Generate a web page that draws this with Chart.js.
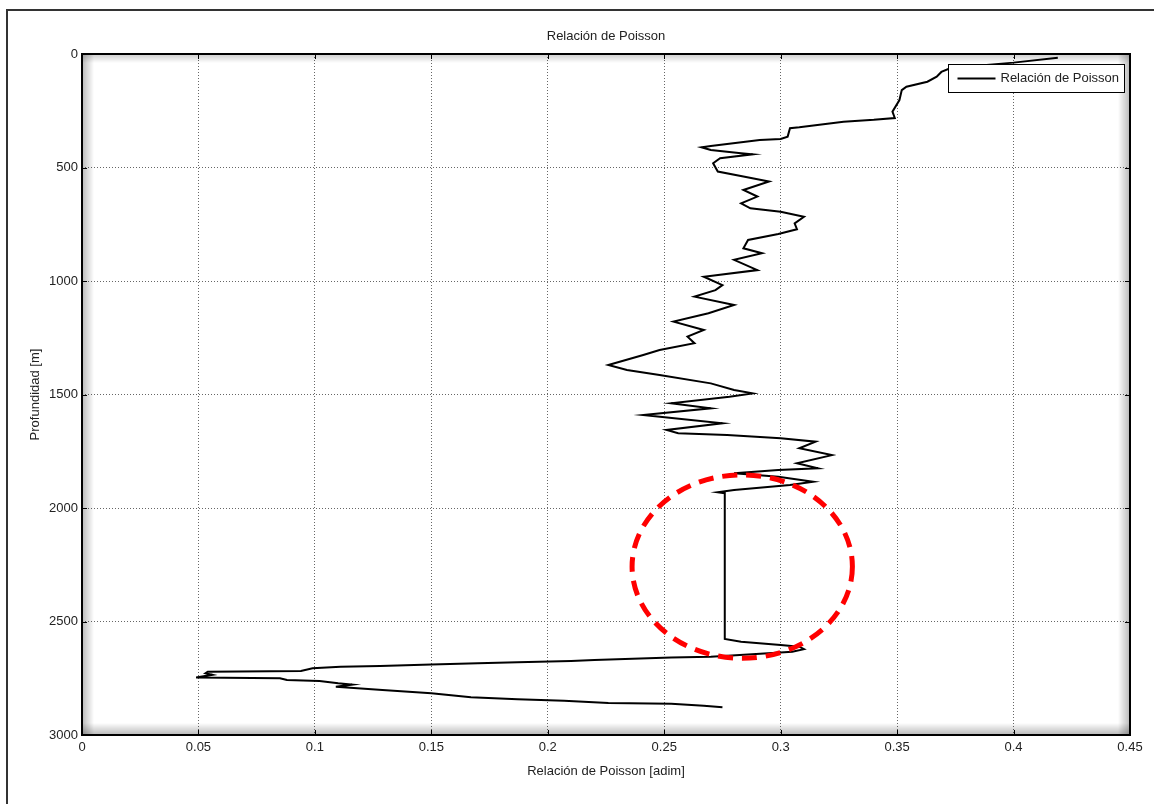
<!DOCTYPE html>
<html>
<head>
<meta charset="utf-8">
<title>Relación de Poisson</title>
<script src="https://cdn.jsdelivr.net/npm/chart.js@4.4.1/dist/chart.umd.min.js"></script>
<style>
body { margin: 0; background: #fff; }
#wrap { position: relative; width: 1154px; height: 804px; overflow: hidden; }
#frame { position: absolute; left: 6px; top: 9px; width: 1300px; height: 900px;
         border-left: 2px solid #333; border-top: 2px solid #333; pointer-events: none; }
</style>
</head>
<body>
<div id="wrap">
<canvas id="mycanvas" width="1154" height="804"></canvas>
<div id="frame"></div>
</div>
<script>
// profundidad [m] y relacion de Poisson
var depth = [16, 38, 62, 79, 100, 122, 144, 159, 203, 254, 282, 290, 298, 323, 327, 364, 374, 379,
  405, 411, 423, 437, 442, 459, 481, 518, 540, 562, 599, 628, 658, 680, 695, 717, 746, 772, 793,
  819, 856, 878, 907, 952, 981, 1018, 1040, 1069, 1106, 1142, 1179, 1216, 1245, 1274, 1304, 1326,
  1370, 1392, 1414, 1451, 1480, 1495, 1510, 1539, 1561, 1590, 1627, 1656, 1671, 1678, 1693, 1708,
  1737, 1767, 1803, 1825, 1833, 1847, 1862, 1884, 1899, 1921, 1931, 1935, 2577, 2589, 2604, 2611,
  2622, 2633, 2645, 2655, 2659, 2670, 2674, 2680, 2684, 2689, 2696, 2699, 2706, 2718, 2721, 2728,
  2735, 2747, 2750, 2758, 2762, 2772, 2778, 2787, 2802, 2816, 2834, 2843, 2849, 2859, 2862, 2871, 2878];
var poisson = [0.419, 0.400, 0.373, 0.369, 0.367, 0.363, 0.354, 0.352, 0.351, 0.348, 0.349, 0.340,
  0.327, 0.308, 0.304, 0.303, 0.300, 0.291, 0.270, 0.266, 0.270, 0.283, 0.288, 0.274, 0.271, 0.273,
  0.284, 0.295, 0.284, 0.290, 0.283, 0.287, 0.300, 0.310, 0.306, 0.307, 0.299, 0.286, 0.284, 0.292,
  0.280, 0.290, 0.267, 0.275, 0.272, 0.263, 0.280, 0.269, 0.254, 0.267, 0.260, 0.263, 0.248, 0.241,
  0.226, 0.234, 0.248, 0.270, 0.280, 0.288, 0.278, 0.253, 0.270, 0.241, 0.275, 0.251, 0.256, 0.277,
  0.300, 0.315, 0.308, 0.322, 0.307, 0.316, 0.299, 0.280, 0.299, 0.314, 0.304, 0.280, 0.273, 0.276,
  0.276, 0.283, 0.300, 0.308, 0.310, 0.305, 0.286, 0.270, 0.253, 0.220, 0.210, 0.187, 0.170, 0.150,
  0.128, 0.111, 0.099, 0.094, 0.054, 0.053, 0.056, 0.049, 0.085, 0.088, 0.102, 0.110, 0.116, 0.109,
  0.129, 0.150, 0.167, 0.187, 0.207, 0.226, 0.253, 0.267, 0.275];

var xTicks = [0, 0.05, 0.1, 0.15, 0.2, 0.25, 0.3, 0.35, 0.4, 0.45];
var xLabels = ['0', '0.05', '0.1', '0.15', '0.2', '0.25', '0.3', '0.35', '0.4', '0.45'];
var yTicks = [0, 500, 1000, 1500, 2000, 2500, 3000];
var yLabels = ['0', '500', '1000', '1500', '2000', '2500', '3000'];

// zona marcada con la elipse roja (centro y radios en unidades de los ejes)
var markCenter = [0.2835, 2258];
var markRadius = [0.0473, 404];

var points = [];
for (var i = 0; i < depth.length; i++) {
  points.push({x: poisson[i], y: depth[i]});
}

var txt = '#222';
var fnt = {family: "'Liberation Sans', Arial, sans-serif", size: 13};

var extras = {
  id: 'extras',
  beforeDatasetsDraw: function(chart) {
    var a = chart.chartArea, c = chart.ctx, g;
    c.save();
    g = c.createLinearGradient(a.left, 0, a.left + 12, 0);
    g.addColorStop(0, 'rgba(0,0,0,0.28)'); g.addColorStop(1, 'rgba(0,0,0,0)');
    c.fillStyle = g; c.fillRect(a.left, a.top, 12, a.bottom - a.top);
    g = c.createLinearGradient(a.right, 0, a.right - 12, 0);
    g.addColorStop(0, 'rgba(0,0,0,0.28)'); g.addColorStop(1, 'rgba(0,0,0,0)');
    c.fillStyle = g; c.fillRect(a.right - 12, a.top, 12, a.bottom - a.top);
    g = c.createLinearGradient(0, a.bottom, 0, a.bottom - 12);
    g.addColorStop(0, 'rgba(0,0,0,0.28)'); g.addColorStop(1, 'rgba(0,0,0,0)');
    c.fillStyle = g; c.fillRect(a.left, a.bottom - 12, a.right - a.left, 12);
    g = c.createLinearGradient(0, a.top, 0, a.top + 9);
    g.addColorStop(0, 'rgba(0,0,0,0.2)'); g.addColorStop(1, 'rgba(0,0,0,0)');
    c.fillStyle = g; c.fillRect(a.left, a.top, a.right - a.left, 9);
    c.restore();
  },
  afterDatasetsDraw: function(chart) {
    var a = chart.chartArea, c = chart.ctx, xs = chart.scales.x, ys = chart.scales.y;
    c.save();
    // marco de los ejes
    c.strokeStyle = '#000';
    c.lineWidth = 2;
    c.strokeRect(a.left, a.top, a.right - a.left, a.bottom - a.top);
    // marcas cortas de los ticks
    c.lineWidth = 1;
    c.beginPath();
    xTicks.forEach(function(v) {
      var px = Math.round(xs.getPixelForValue(v)) + 0.5;
      c.moveTo(px, a.bottom); c.lineTo(px, a.bottom - 5);
      c.moveTo(px, a.top); c.lineTo(px, a.top + 5);
    });
    yTicks.forEach(function(v) {
      var py = Math.round(ys.getPixelForValue(v)) + 0.5;
      c.moveTo(a.left, py); c.lineTo(a.left + 5, py);
      c.moveTo(a.right, py); c.lineTo(a.right - 5, py);
    });
    c.stroke();

    // elipse roja discontinua
    var cx = xs.getPixelForValue(markCenter[0]);
    var cy = ys.getPixelForValue(markCenter[1]);
    var rx = Math.abs(xs.getPixelForValue(markCenter[0] + markRadius[0]) - cx);
    var ry = Math.abs(ys.getPixelForValue(markCenter[1] + markRadius[1]) - cy);
    c.strokeStyle = '#f00';
    c.lineWidth = 5;
    c.setLineDash([15, 9]);
    c.beginPath();
    c.ellipse(cx, cy, rx, ry, 0, 0, Math.PI * 2);
    c.stroke();
    c.setLineDash([]);

    // leyenda
    var lx = 948.5, ly = 64.5, lw = 176, lh = 28;
    c.fillStyle = '#fff';
    c.fillRect(lx, ly, lw, lh);
    c.strokeStyle = '#000';
    c.lineWidth = 1;
    c.strokeRect(lx, ly, lw, lh);
    c.lineWidth = 2;
    c.beginPath();
    c.moveTo(lx + 9, ly + 14); c.lineTo(lx + 47, ly + 14);
    c.stroke();
    c.fillStyle = txt;
    c.font = "13px 'Liberation Sans', Arial, sans-serif";
    c.textBaseline = 'middle';
    c.textAlign = 'left';
    c.fillText(chart.data.datasets[0].label, lx + 52, ly + 14);
    c.restore();
  }
};

var ctx = document.getElementById('mycanvas');
var chart = new Chart(ctx, {
  type: 'scatter',
  data: {
    datasets: [{
      label: 'Relación de Poisson',
      data: points,
      showLine: true,
      borderColor: '#000',
      backgroundColor: '#000',
      borderWidth: 2,
      pointRadius: 0,
      tension: 0,
      fill: false
    }]
  },
  options: {
    responsive: false,
    animation: false,
    layout: {padding: {left: 0, right: 24, top: 0, bottom: 0}},
    plugins: {
      legend: {display: false},
      tooltip: {enabled: false},
      title: {
        display: true,
        text: 'Relación de Poisson',
        color: txt,
        font: {family: fnt.family, size: 13, weight: 'normal'},
        padding: {top: 29, bottom: 9.4},
        fullSize: false
      }
    },
    scales: {
      x: {
        type: 'linear',
        position: 'bottom',
        min: 0,
        max: 0.45,
        afterBuildTicks: function(s) { s.ticks = xTicks.map(function(v) { return {value: v}; }); },
        afterFit: function(s) { s.height = 69; },
        ticks: {
          callback: function(v, i) { return xLabels[i]; },
          autoSkip: false, maxRotation: 0, padding: 5, color: txt, font: fnt
        },
        grid: {color: '#666', lineWidth: 1, tickLength: 0, drawTicks: false},
        border: {display: false, dash: [1, 2]},
        title: {display: true, text: 'Relación de Poisson [adim]', color: txt, font: fnt,
                padding: {top: 0, bottom: 25}}
      },
      y: {
        type: 'linear',
        reverse: true,
        min: 0,
        max: 3000,
        afterBuildTicks: function(s) { s.ticks = yTicks.map(function(v) { return {value: v}; }); },
        afterFit: function(s) { s.width = 82; },
        ticks: {
          callback: function(v, i) { return yLabels[i]; },
          autoSkip: false, padding: 4, color: txt, font: fnt
        },
        grid: {color: '#666', lineWidth: 1, tickLength: 0, drawTicks: false},
        border: {display: false, dash: [1, 2]},
        title: {display: true, text: 'Profundidad [m]', color: txt, font: fnt,
                padding: {top: 28, bottom: 0}}
      }
    }
  },
  plugins: [extras]
});
</script>
</body>
</html>
